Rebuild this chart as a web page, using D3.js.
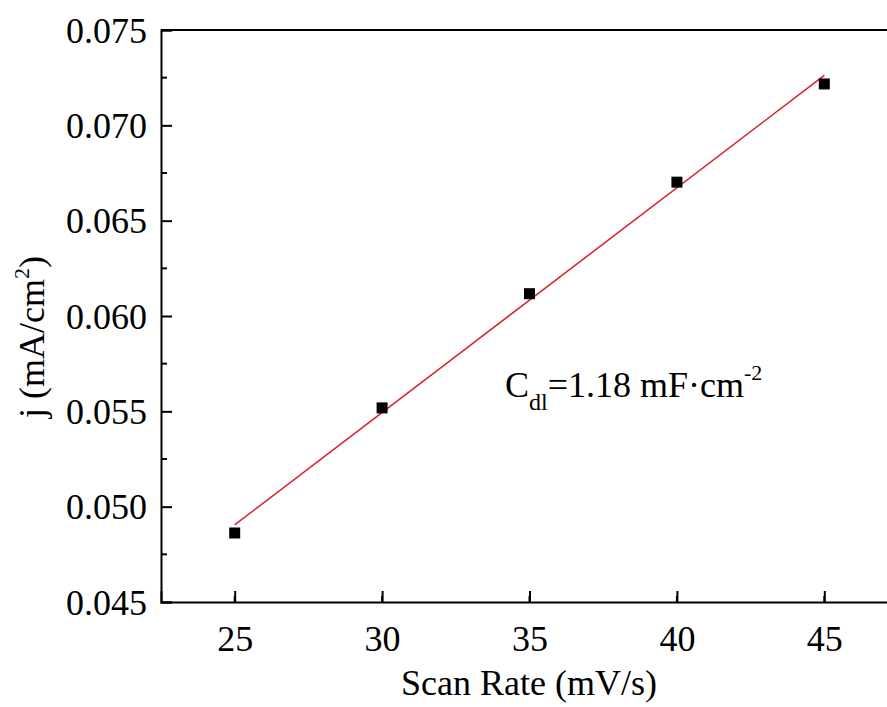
<!DOCTYPE html>
<html>
<head>
<meta charset="utf-8">
<script src="https://cdn.jsdelivr.net/npm/d3@7/dist/d3.min.js"></script>
<style>
  html, body { margin: 0; padding: 0; background: #fff; }
  svg { display: block; }
  text { font-family: "Liberation Serif", "Times New Roman", serif; fill: #000; }
</style>
</head>
<body>
<script>
// Scan rate (mV/s) and capacitive current density (mA/cm^2)
const scanRates = [25, 30, 35, 40, 45];
const currentDensity = [0.04862, 0.05518, 0.06117, 0.06702, 0.07217];
const xTicks = [25, 30, 35, 40, 45];
const yTicks = [0.045, 0.050, 0.055, 0.060, 0.065, 0.070, 0.075];
const xDomain = [22.5, 47.5];
const yDomain = [0.045, 0.075];

const W = 887, H = 707;
const margin = { left: 161, top: 30, bottom: 105 };
const plotW = 737;               // right frame edge lies just past the page
const plotH = H - margin.top - margin.bottom;

const svg = d3.select("body").append("svg").attr("width", W).attr("height", H);

const x = d3.scaleLinear().domain(xDomain).range([margin.left, margin.left + plotW]);
const y = d3.scaleLinear().domain(yDomain).range([margin.top + plotH, margin.top]);

// Least-squares fit of j against scan rate
const mx = d3.mean(scanRates), my = d3.mean(currentDensity);
const slope = d3.sum(scanRates, (v, i) => (v - mx) * (currentDensity[i] - my)) /
              d3.sum(scanRates, v => (v - mx) * (v - mx));
const intercept = my - slope * mx;

const g = svg.append("g");

// Top edge of the frame
g.append("line").attr("x1", x(xDomain[0])).attr("x2", x(xDomain[1]))
  .attr("y1", y(yDomain[1])).attr("y2", y(yDomain[1]))
  .attr("stroke", "#000").attr("stroke-width", 2);

// Axes with inward ticks
const xMinor = d3.range(xDomain[0] + 2.5, xDomain[1], 5);
const yMinor = d3.range(yDomain[0] + 0.0025, yDomain[1], 0.005);

const xAxis = g.append("g").attr("transform", `translate(0,${y(yDomain[0])})`)
  .call(d3.axisBottom(x).tickValues(xTicks).tickSize(-11).tickPadding(23).tickFormat(d3.format("d")));
xAxis.append("g").selectAll("line").data(xMinor.filter(v => v > xDomain[0] && v < xDomain[1]))
  .join("line").attr("x1", d => x(d)).attr("x2", d => x(d)).attr("y1", 0).attr("y2", -6)
  .attr("stroke", "#000").attr("stroke-width", 2);

const yAxis = g.append("g").attr("transform", `translate(${x(xDomain[0])},0)`)
  .call(d3.axisLeft(y).tickValues(yTicks).tickSize(-11).tickPadding(14).tickFormat(d3.format(".3f")));
yAxis.append("g").selectAll("line").data(yMinor.filter(v => v > yDomain[0] && v < yDomain[1]))
  .join("line").attr("x1", 0).attr("x2", 6).attr("y1", d => y(d)).attr("y2", d => y(d))
  .attr("stroke", "#000").attr("stroke-width", 2);

[xAxis, yAxis].forEach(a => {
  a.select(".domain").attr("stroke", "#000").attr("stroke-width", 2);
  a.selectAll(".tick line").attr("stroke", "#000").attr("stroke-width", 2);
  a.selectAll(".tick text").attr("font-family", "Liberation Serif, serif")
    .attr("font-size", 36).attr("fill", "#000");
});
yAxis.selectAll(".tick text").attr("dy", "0.34em");

// Fit line across the measured range
const fitX = d3.extent(scanRates);
g.append("line")
  .attr("x1", x(fitX[0])).attr("y1", y(intercept + slope * fitX[0]))
  .attr("x2", x(fitX[1])).attr("y2", y(intercept + slope * fitX[1]))
  .attr("stroke", "#d8202c").attr("stroke-width", 1.5);

// Measured points
const s = 11;
g.selectAll("rect.pt").data(scanRates).join("rect").attr("class", "pt")
  .attr("x", d => x(d) - s / 2)
  .attr("y", (d, i) => y(currentDensity[i]) - s / 2)
  .attr("width", s).attr("height", s).attr("fill", "#000");

// Axis titles
svg.append("text").attr("x", 529).attr("y", 695).attr("text-anchor", "middle")
  .attr("font-size", 36).text("Scan Rate (mV/s)");

const yt = svg.append("text").attr("transform", "translate(44,337) rotate(-90)")
  .attr("text-anchor", "middle").attr("font-size", 36);
yt.append("tspan").text("j (mA/cm");
yt.append("tspan").attr("font-size", 22).attr("dy", -15).text("2");
yt.append("tspan").attr("dy", 15).text(")");

// Double-layer capacitance annotation
const ann = svg.append("text").attr("x", 505).attr("y", 397).attr("font-size", 36);
ann.append("tspan").text("C");
ann.append("tspan").attr("font-size", 24).attr("dy", 13).text("dl");
ann.append("tspan").attr("dy", -13).text("=1.18 mF·cm");
ann.append("tspan").attr("font-size", 22).attr("dy", -17).text("-2");
</script>
</body>
</html>
